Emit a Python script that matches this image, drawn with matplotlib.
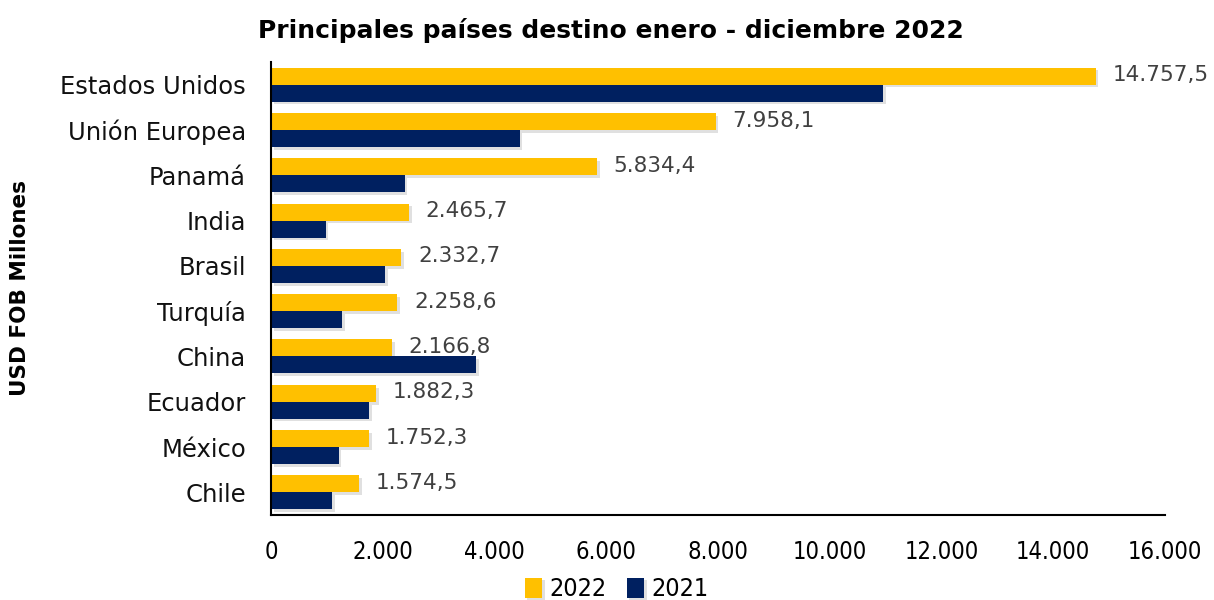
import numpy as np
import matplotlib
matplotlib.use("Agg")
import matplotlib.pyplot as plt
import matplotlib.patheffects as pe

paises = ["Estados Unidos", "Unión Europea", "Panamá", "India", "Brasil",
          "Turquía", "China", "Ecuador", "México", "Chile"]
v2022 = [14757.5, 7958.1, 5834.4, 2465.7, 2332.7, 2258.6, 2166.8, 1882.3, 1752.3, 1574.5]
v2021 = [10950, 4450, 2390, 980, 2040, 1280, 3670, 1760, 1210, 1100]
etiquetas = ["14.757,5", "7.958,1", "5.834,4", "2.465,7", "2.332,7",
             "2.258,6", "2.166,8", "1.882,3", "1.752,3", "1.574,5"]
xticks = [0, 2000, 4000, 6000, 8000, 10000, 12000, 14000, 16000]
xtick_labels = ["0", "2.000", "4.000", "6.000", "8.000", "10.000", "12.000", "14.000", "16.000"]

amarillo = "#FFC000"
azul = "#002060"
font = "DejaVu Sans"

fig = plt.figure(figsize=(12.14, 6), dpi=100)
ax = fig.add_axes([0.2232, 0.1417, 0.7364, 0.755])

y = np.arange(len(paises))
h = 0.375
sombra = [pe.SimplePatchShadow(offset=(2, -2), shadow_rgbFace="#000000", alpha=0.12), pe.Normal()]
b1 = ax.barh(y - h / 2, v2022, height=h, color=amarillo, label="2022", path_effects=sombra)
b2 = ax.barh(y + h / 2, v2021, height=h, color=azul, label="2021", path_effects=sombra)

for yi, v, t in zip(y, v2022, etiquetas):
    ax.text(v + 300, yi - h / 2 - 0.02, t, va="center", ha="left",
            fontsize=15.5, color="#404040", family=font)

ax.set_ylim(len(paises) - 0.5, -0.5)
ax.set_xlim(0, 16000)
ax.set_yticks(y)
ax.set_yticklabels(paises, fontsize=17.5, family=font, color="#111111")
ax.set_xticks(xticks)
ax.set_xticklabels(xtick_labels, fontsize=17, family=font, stretch="condensed")
ax.tick_params(axis="y", length=0, pad=18)
ax.tick_params(axis="x", length=0, pad=18)
for s in ["top", "right"]:
    ax.spines[s].set_visible(False)
ax.spines["left"].set_linewidth(1.5)
ax.spines["bottom"].set_linewidth(1.5)

ax.set_ylabel("USD FOB Millones", fontsize=15.5, fontweight="bold", family=font)
ax.yaxis.set_label_coords(-0.27, 0.5)
fig.suptitle("Principales países destino enero - diciembre 2022", x=0.503, y=0.97,
             fontsize=18, fontweight="bold", family=font)

fig.legend([b1, b2], ["2022", "2021"], loc="lower center", bbox_to_anchor=(0.508, -0.04),
           ncol=2, frameon=False, handlelength=0.7, handleheight=0.9, handletextpad=0.3,
           columnspacing=0.8, prop={"family": font, "size": 18, "stretch": "condensed"})

fig.savefig("out.png", dpi=100)
